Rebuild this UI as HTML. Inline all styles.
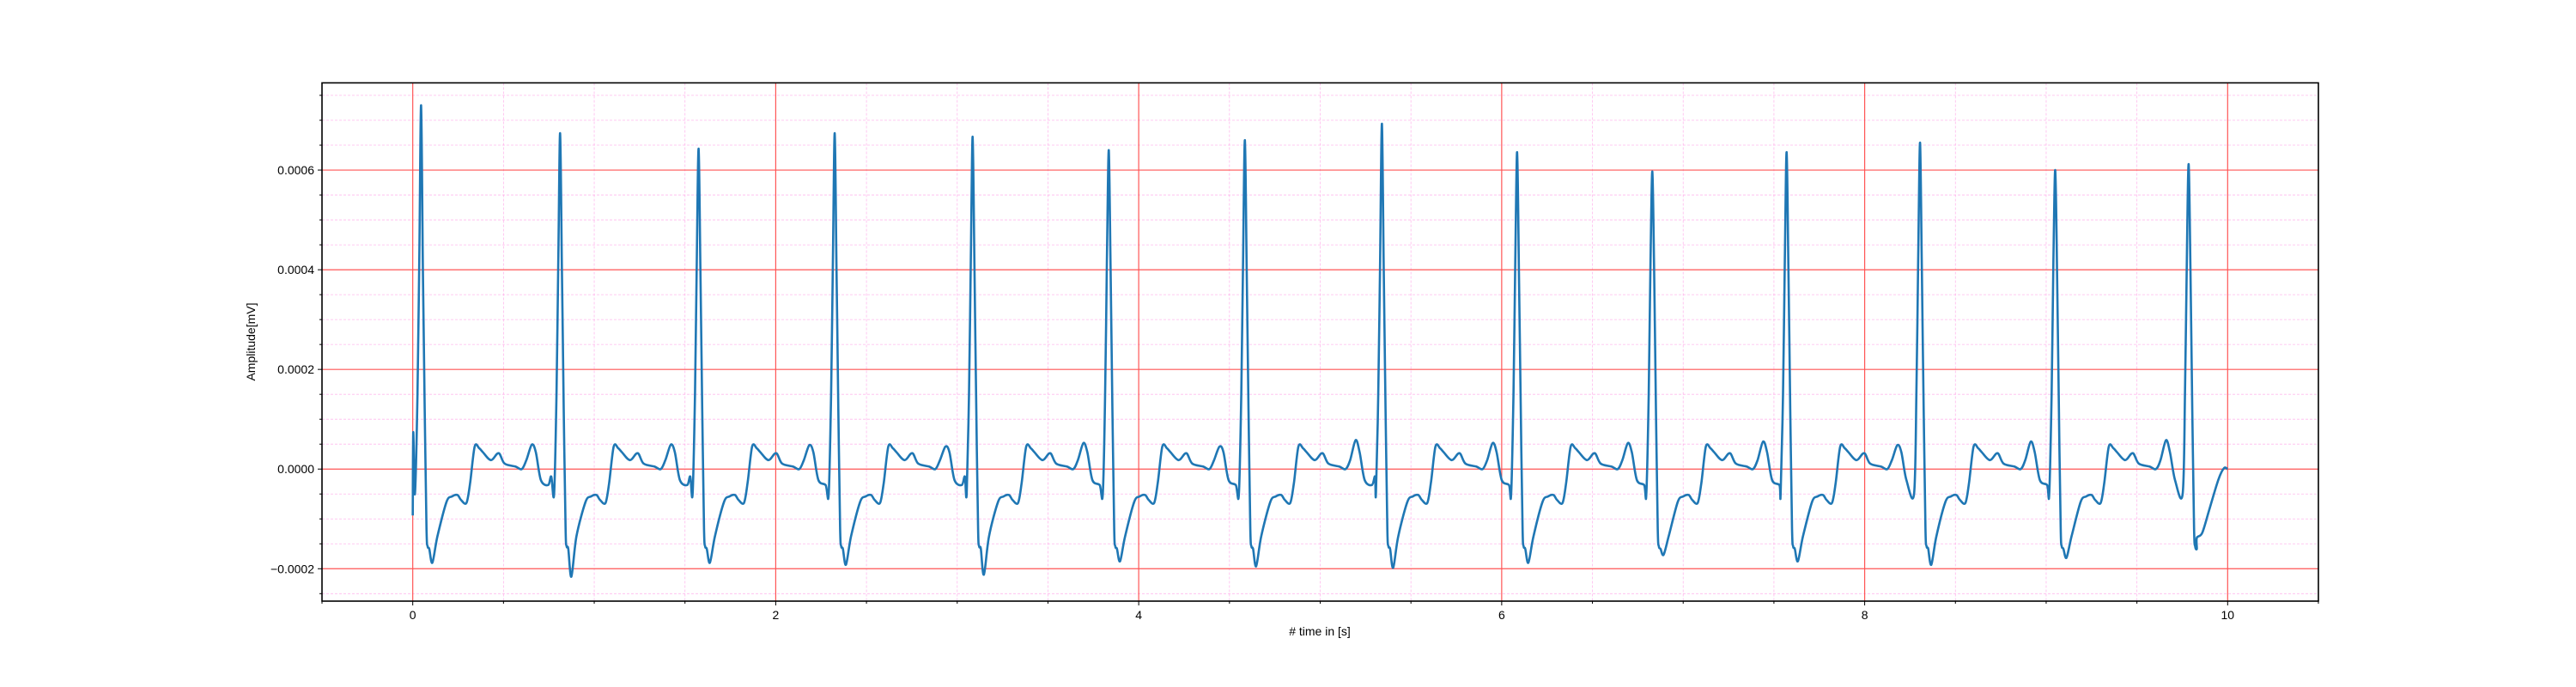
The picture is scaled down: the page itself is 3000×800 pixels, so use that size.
<!DOCTYPE html>
<html><head><meta charset="utf-8"><style>
html,body{margin:0;padding:0;background:#fff;}
svg{display:block;font-family:"Liberation Sans","DejaVu Sans",sans-serif;}
</style></head><body>
<svg id="chart" width="3000" height="800" xmlns="http://www.w3.org/2000/svg">
<g id="grid"></g>
<g id="series"></g>
<rect x="375" y="96.5" width="2325" height="603.5" fill="none" stroke="#000" stroke-width="1.6"/>
<g id="axes"></g>
<text x="1537" y="740" font-size="14" text-anchor="middle"># time in [s]</text>
<text x="297" y="398" font-size="14" text-anchor="middle" transform="rotate(-90 297 398)">Amplitude[mV]</text>
</svg>
<script>
const xTicks=[0,2,4,6,8,10];
const xTickLabels=["0","2","4","6","8","10"];
const yTicks=[-0.0002,0,0.0002,0.0004,0.0006];
const yTickLabels=["\u22120.0002","0.0000","0.0002","0.0004","0.0006"];
// R-peak times, R heights, S depths, T heights per beat
const beatTimes=[0.046,0.812,1.575,2.325,3.085,3.835,4.585,5.34,6.085,6.83,7.57,8.305,9.05,9.785];
const beatR=[0.00073,0.000674,0.000643,0.000674,0.000667,0.00064,0.00066,0.000693,0.000636,0.000597,0.000636,0.000655,0.0006,0.000612];
const beatS=[-0.000188,-0.000216,-0.000188,-0.000192,-0.000212,-0.000185,-0.000195,-0.000198,-0.000188,-0.000172,-0.000185,-0.000192,-0.000178,-0.000158];
const beatT=[0.000049,0.000049,0.000048,0.000045,0.000052,0.000045,0.000058,0.000052,0.000052,0.000055,0.000048,0.000055,0.000058,0.0];
// template relative to R peak
const tmplDt=[-0.033,-0.02,-0.01,0,0.01,0.02,0.03,0.036,0.045,0.062,0.09,0.14,0.17,0.2,0.22,0.25,0.27,0.295,0.32,0.34,0.385,0.427,0.46,0.52,0.555,0.58,0.61,0.632,0.66,0.7,0.717];
const tmplV=[-0.00005,0.00015,0.00042,'R',0.0004,0.00012,-0.00012,-0.000155,-0.00016,'S',-0.000135,-0.000066,-0.000055,-0.000052,-0.000062,-0.000068,-0.000028,0.000045,0.000042,0.000034,0.000018,0.000032,0.000011,0.000005,0.0,0.000018,'T',0.000034,-0.000022,-0.000032,-0.000015];
const startT=[0,0.003,0.012];
const startV=[-0.000093,0.000074,-0.00005];
const endT=[9.83,9.86,9.9,9.95,9.98,10.0];
const endV=[-0.000138,-0.000128,-0.00008,-0.00002,0.000002,0.0];

const X0=375,X1=2700,Y0=96.5,Y1=700,xmin=-0.5,xmax=10.5,ymin=-0.000265,ymax=0.000775;
const sx=v=>X0+(v-xmin)/(xmax-xmin)*(X1-X0);
const sy=v=>Y1-(v-ymin)/(ymax-ymin)*(Y1-Y0);
const NS="http://www.w3.org/2000/svg";
function mk(tag,attrs,parent){const e=document.createElementNS(NS,tag);for(const k in attrs)e.setAttribute(k,attrs[k]);parent.appendChild(e);return e;}
const grid=document.getElementById('grid'),axes=document.getElementById('axes'),series=document.getElementById('series');

for(let i=-1;i<=21;i++){const v=i*0.5;if(v<xmin||v>xmax||i%4===0)continue;
 const l=mk('line',{x1:sx(v),x2:sx(v),y1:Y0,y2:Y1,stroke:'#ff9ce6',"stroke-width":0.8,"stroke-dasharray":"3,2","stroke-opacity":0.7},grid);
 
 
 const t=mk('line',{x1:sx(v),x2:sx(v),y1:Y1,y2:Y1+3,stroke:'#000',"stroke-width":1},axes);
 
 }
for(let i=-5;i<=15;i++){const v=i*0.00005;if(v<ymin||v>ymax||i%4===0)continue;
 const l=mk('line',{x1:X0,x2:X1,y1:sy(v),y2:sy(v),stroke:'#ff9ce6',"stroke-width":0.8,"stroke-dasharray":"3,2","stroke-opacity":0.7},grid);
 
 
 const t=mk('line',{x1:X0-3,x2:X0,y1:sy(v),y2:sy(v),stroke:'#000',"stroke-width":1},axes);
 
 }
xTicks.forEach((v,i)=>{
 const l=mk('line',{x1:sx(v),x2:sx(v),y1:Y0,y2:Y1,stroke:'#f55',"stroke-width":1.2},grid);
 
 
 const t=mk('line',{x1:sx(v),x2:sx(v),y1:Y1,y2:Y1+5,stroke:'#000',"stroke-width":1},axes);
 
 
 const tx=mk('text',{x:sx(v),y:Y1+21,"font-size":14,"text-anchor":"middle"},axes);tx.textContent=xTickLabels[i];
 
 });
yTicks.forEach((v,i)=>{
 const l=mk('line',{x1:X0,x2:X1,y1:sy(v),y2:sy(v),stroke:'#f55',"stroke-width":1.2},grid);
 
 
 const t=mk('line',{x1:X0-5,x2:X0,y1:sy(v),y2:sy(v),stroke:'#000',"stroke-width":1},axes);
 
 
 const tx=mk('text',{x:X0-9,y:sy(v)+5,"font-size":14,"text-anchor":"end"},axes);tx.textContent=yTickLabels[i];
 
 });
const pts=[];
startT.forEach((t,i)=>pts.push([t,startV[i]]));
beatTimes.forEach((bt,b)=>{
 const next=b+1<beatTimes.length?beatTimes[b+1]:10.5;
 tmplDt.forEach((dt,k)=>{
  const t=bt+dt;
  if(b===0&&dt<-0.025)return;
  if(b===beatTimes.length-1&&dt>0.046)return;
  if(t>=next-0.035)return;
  let v=tmplV[k];
  if(v==='R')v=beatR[b];else if(v==='S')v=beatS[b];else if(v==='T')v=beatT[b];
  pts.push([t,v]);});
});
endT.forEach((t,i)=>pts.push([t,endV[i]]));
const P=pts.map(p=>[sx(p[0]),sy(p[1])]);
let d='M'+P[0][0].toFixed(1)+','+P[0][1].toFixed(1);
for(let i=0;i<P.length-1;i++){
 const p0=P[Math.max(0,i-1)],p1=P[i],p2=P[i+1],p3=P[Math.min(P.length-1,i+2)];
 const k=0.16;
 const c1=[p1[0]+(p2[0]-p0[0])*k,p1[1]+(p2[1]-p0[1])*k];
 const c2=[p2[0]-(p3[0]-p1[0])*k,p2[1]-(p3[1]-p1[1])*k];
 d+='C'+c1[0].toFixed(1)+','+c1[1].toFixed(1)+' '+c2[0].toFixed(1)+','+c2[1].toFixed(1)+' '+p2[0].toFixed(1)+','+p2[1].toFixed(1);
}
const path=mk('path',{d:d,fill:'none',stroke:'#1f77b4',"stroke-width":2.6,"stroke-linejoin":"round"},series);


</script>
</body></html>
